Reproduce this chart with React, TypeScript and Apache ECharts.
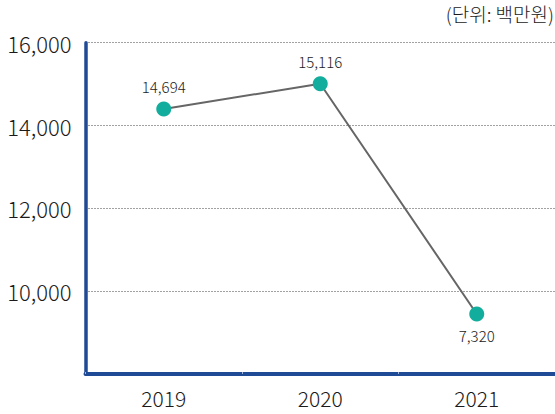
import React, { useEffect, useRef } from "react";
import * as echarts from "echarts";

const categories = ["2019", "2020", "2021"];
// positions of the markers as drawn in the reference
const plottedValues = [14400, 15010, 9450];
// values printed on the labels in the reference
const labelValues = [14694, 15116, 7320];
const labelPositions = ["top", "top", "bottom"];
const yTicks = { min: 8000, max: 16000, interval: 2000 };
const unitText = "(단위: 백만원)";

const FONT = "'Noto Sans CJK KR', 'Noto Sans', sans-serif";
const BLUE = "#1f4a96";
const TEAL = "#12ad9c";

export default function App() {
  const ref = useRef<HTMLDivElement>(null);

  useEffect(() => {
    document.body.style.margin = "0";
    const chart = echarts.init(ref.current!, undefined, { renderer: "svg" });
    chart.setOption({
      animation: false,
      backgroundColor: "#ffffff",
      title: {
        text: unitText,
        right: 1,
        top: 4,
        padding: 0,
        textStyle: { fontFamily: FONT, fontSize: 19, fontWeight: 300, color: "#1a1a1a" },
      },
      grid: { left: 85.5, right: 0, top: 42.7, bottom: 40, containLabel: false },
      xAxis: {
        type: "category",
        data: categories,
        boundaryGap: true,
        axisLine: { show: true, lineStyle: { color: BLUE, width: 4 } },
        axisTick: { show: true, inside: true, length: 2, lineStyle: { color: "#9fb3d8", width: 1 } },
        axisLabel: { fontFamily: FONT, fontSize: 21, fontWeight: 300, color: "#1a1a1a", margin: 13 },
        splitLine: { show: false },
      },
      yAxis: {
        type: "value",
        min: yTicks.min,
        max: yTicks.max,
        interval: yTicks.interval,
        axisLine: { show: true, lineStyle: { color: BLUE, width: 3.5 } },
        axisTick: { show: false },
        axisLabel: {
          fontFamily: FONT,
          fontSize: 22,
          fontWeight: 300,
          color: "#1a1a1a",
          margin: 14,
          verticalAlign: "middle",
          padding: [14, 0, 0, 0],
          formatter: (v: number) => (v === yTicks.min ? "" : v.toLocaleString("en-US")),
        },
        splitLine: { show: true, lineStyle: { color: "#444", width: 1, type: [1, 2] } },
      },
      series: [
        {
          type: "line",
          data: plottedValues.map((v, i) => ({
            value: v,
            label: {
              show: true,
              position: labelPositions[i],
              distance: 7,
              formatter: () => labelValues[i].toLocaleString("en-US"),
              fontFamily: FONT,
              fontSize: 15,
              fontWeight: 300,
              color: "#222",
            },
          })),
          symbol: "circle",
          symbolSize: 15,
          itemStyle: { color: TEAL },
          lineStyle: { color: "#666", width: 2 },
          z: 3,
        },
      ],
    });
    return () => chart.dispose();
  }, []);

  return (
    <div
      ref={ref}
      style={{ position: "fixed", left: 0, top: 0, width: 555, height: 414 }}
    />
  );
}
